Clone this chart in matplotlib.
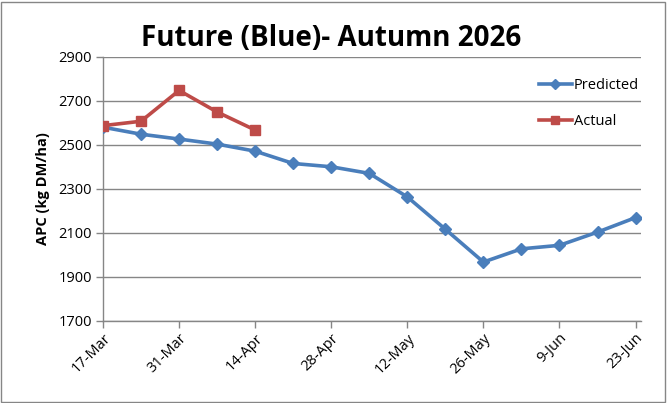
import matplotlib
matplotlib.use("Agg")
import matplotlib.pyplot as plt
from matplotlib.patches import Rectangle

# Data (days offset from 17-Mar, weekly)
pred_days = [0, 7, 14, 21, 28, 35, 42, 49, 56, 63, 70, 77, 84, 91, 98]
pred_vals = [2581, 2549, 2527, 2504, 2472, 2416, 2401, 2371, 2264, 2117, 1968, 2028, 2044, 2104, 2170]
act_days = [0, 7, 14, 21, 28]
act_vals = [2588, 2608, 2748, 2650, 2568]
tick_days = [0, 14, 28, 42, 56, 70, 84, 98]
tick_labels = ["17-Mar", "31-Mar", "14-Apr", "28-Apr", "12-May", "26-May", "9-Jun", "23-Jun"]
yticks = [1700, 1900, 2100, 2300, 2500, 2700, 2900]

plt.rcParams['font.family'] = ['Open Sans', 'DejaVu Sans']

fig = plt.figure(figsize=(6.68, 4.03), dpi=100)
ax = fig.add_axes([103/668, 1-321/403, (641-103)/668, (321-57)/403])

blue = "#4A7EBB"
red = "#BE4B48"
ax.plot(pred_days, pred_vals, color=blue, lw=2.6, marker='D', ms=6.5,
        markerfacecolor=blue, markeredgecolor=blue, label="Predicted", zorder=3)
ax.plot(act_days, act_vals, color=red, lw=2.6, marker='s', ms=7.5,
        markerfacecolor=red, markeredgecolor=red, label="Actual", zorder=4)

ax.set_xlim(0, 99)
ax.set_ylim(1700, 2900)
ax.set_yticks(yticks)
ax.set_yticklabels([str(v) for v in yticks], fontsize=10.5)
ax.set_xticks(tick_days)
ax.set_xticklabels(tick_labels, rotation=45, ha='right', rotation_mode='anchor', fontsize=10.5)
ax.grid(axis='y', color='#868686', lw=1)
ax.set_axisbelow(True)
for s in ['top', 'right']:
    ax.spines[s].set_visible(False)
for s in ['left', 'bottom']:
    ax.spines[s].set_color('#868686')
    ax.spines[s].set_linewidth(1)
ax.tick_params(axis='both', direction='out', length=5, color='#868686', width=1)
ax.tick_params(axis='x', pad=2)
ax.tick_params(axis='y', pad=3)
ax.set_ylabel("APC (kg DM/ha)", fontsize=10.5, fontweight='bold', labelpad=6)

fig.text(0.495, 0.905, "Future (Blue)- Autumn 2026", ha='center', va='center',
         fontsize=20, fontweight='bold')

leg = ax.legend(loc='upper right', bbox_to_anchor=(1.02, 0.97), frameon=False,
                fontsize=10.5, handlelength=2.3, labelspacing=1.45, handletextpad=0.1,
                markerscale=0.8)

fig.patches.append(Rectangle((0.002, 0.003), 0.994, 0.992, transform=fig.transFigure,
                             fill=False, edgecolor='#868686', lw=1))

fig.savefig("out.png", dpi=100, facecolor='white')
